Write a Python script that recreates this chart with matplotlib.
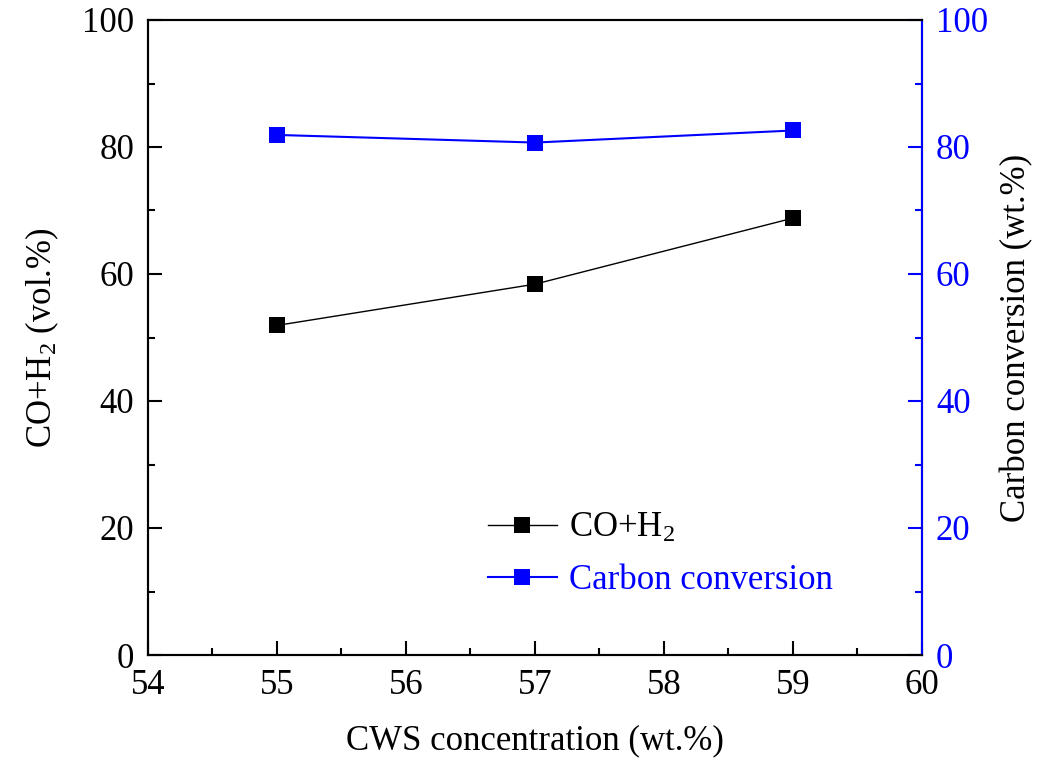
import matplotlib
matplotlib.use("Agg")
import matplotlib.pyplot as plt
from matplotlib.ticker import MultipleLocator

plt.rcParams['font.family'] = ['Liberation Serif', 'DejaVu Serif']
plt.rcParams['mathtext.fontset'] = 'custom'
plt.rcParams['mathtext.rm'] = 'Liberation Serif'
plt.rcParams['mathtext.it'] = 'Liberation Serif:italic'

cws = [55, 57, 59]
syngas = [51.9, 58.4, 68.8]
carbon_conv = [81.9, 80.7, 82.6]

fig = plt.figure(figsize=(10.37, 7.6), dpi=100)
ax = fig.add_axes([148/1037, 105/760, (922-148)/1037, (655-20)/760])
ax2 = ax.twinx()

l1, = ax.plot(cws, syngas, color='black', lw=1.0, marker='s', ms=11,
              markeredgewidth=0, label='CO+H$_\\mathregular{2}$')
l2, = ax2.plot(cws, carbon_conv, color='blue', lw=1.5, marker='s', ms=11,
               markeredgewidth=0, label='Carbon conversion')

ax.set_xlim(54, 60)
ax.set_ylim(0, 100)
ax2.set_ylim(0, 100)

ax.xaxis.set_major_locator(MultipleLocator(1))
ax.xaxis.set_minor_locator(MultipleLocator(0.5))
ax.yaxis.set_major_locator(MultipleLocator(20))
ax.yaxis.set_minor_locator(MultipleLocator(10))
ax2.yaxis.set_major_locator(MultipleLocator(20))
ax2.yaxis.set_minor_locator(MultipleLocator(10))

fs = 25
ax.tick_params(axis='both', which='major', direction='in', length=10, width=1.5,
               labelsize=fs, pad=10)
ax.tick_params(axis='both', which='minor', direction='in', length=5, width=1.5)
ax.tick_params(axis='x', top=False, which='both')
ax2.tick_params(axis='y', which='major', direction='in', length=10, width=1.5,
                labelsize=fs, colors='blue', pad=10)
ax2.tick_params(axis='y', which='minor', direction='in', length=5, width=1.5,
                colors='blue')

for s in ax.spines.values():
    s.set_linewidth(1.5)
for s in ax2.spines.values():
    s.set_linewidth(1.5)
ax2.spines['right'].set_color('blue')

ax.set_xlabel('CWS concentration (wt.%)', fontsize=fs, labelpad=16)
ax.set_ylabel('CO+H$_\\mathregular{2}$ (vol.%)', fontsize=fs, labelpad=15)
ax2.set_ylabel('Carbon conversion (wt.%)', fontsize=fs, labelpad=9)

leg = ax.legend(handles=[l1, l2], loc='upper left', bbox_to_anchor=(0.421, 0.247),
                frameon=False, fontsize=fs, handlelength=2.0, handletextpad=0.35,
                labelspacing=0.55, borderaxespad=0)
leg.get_texts()[1].set_color('blue')

fig.savefig('out.png', dpi=100)
